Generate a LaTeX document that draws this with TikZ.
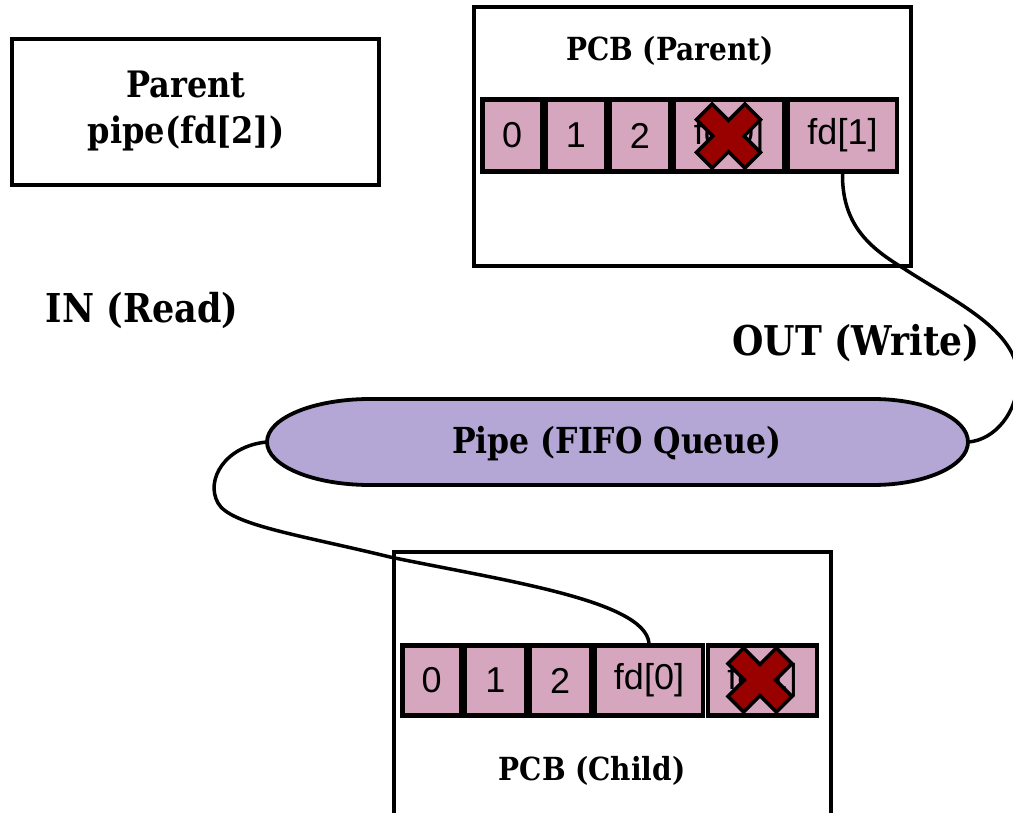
\documentclass[tikz,border=0pt]{standalone}
\usepackage{fontspec}
\setmainfont{DejaVu Serif}[FakeStretch=0.88]
\newfontfamily\cellfont{Liberation Sans}
\usetikzlibrary{shapes.geometric}
\definecolor{cellpink}{RGB}{213,166,189}
\definecolor{pipefill}{RGB}{180,167,214}
\definecolor{crossred}{RGB}{153,0,0}
\tikzset{
  cellbox/.style={draw=black, line width=4.5pt, fill=cellpink, inner sep=0pt,
    font=\cellfont\fontsize{36}{40}\selectfont},
  framebox/.style={draw=black, line width=4pt, inner sep=0pt},
  lbl/.style={inner sep=0pt, font=\bfseries\fontsize{#1}{#1}\selectfont, align=center},
  wire/.style={draw=black, line width=3.5pt},
  xcross/.pic={
    \filldraw[fill=crossred, draw=black, line width=3.5pt, line join=miter]
      (15.56,0) -- (32,16.44) -- (16.44,32) -- (0,15.56) -- (-16.44,32) -- (-32,16.44)
      -- (-15.56,0) -- (-32,-16.44) -- (-16.44,-32) -- (0,-15.56) -- (16.44,-32)
      -- (32,-16.44) -- cycle;
  }
}
\begin{document}
\begin{tikzpicture}[x=1pt,y=-1pt]
\useasboundingbox (0,0) rectangle (1013,813);
\clip (0,0) rectangle (1013,813);
\fill[white] (0,0) rectangle (1013,813);

% Parent box
\node[framebox, minimum width=367pt, minimum height=146pt] (parentbox) at (195,112.5) {};
\node[inner sep=0pt, align=center, font=\bfseries\fontsize{36.4}{46}\selectfont] (parenttxt) at (186,111) {Parent\\pipe(fd[2])};

% PCB parent
\node[framebox, minimum width=437pt, minimum height=259pt] (pcbp) at (692,137) {};
\node[lbl=31.8] (pcbptitle) at (670,51) {PCB (Parent)};
\node[cellbox, minimum width=59.5pt, minimum height=72pt] (p0) at (512.25,135.5) {0};
\node[cellbox, minimum width=60pt, minimum height=72pt] (p1) at (576,135.5) {1};
\node[cellbox, minimum width=60pt, minimum height=72pt] (p2) at (640,135.5) {2};
\node[cellbox, minimum width=110pt, minimum height=72pt] (pfd0) at (729,135.5) {fd[0]};
\node[cellbox, minimum width=109pt, minimum height=72pt] (pfd1) at (842.5,135.5) {fd[1]};
\pic at (728.5,136) {xcross};

% PCB child
\node[framebox, minimum width=437pt, minimum height=280pt] (pcbc) at (612,691.5) {};
\node[lbl=31.8] (pcbctitle) at (592,771) {PCB (Child)};
\node[cellbox, minimum width=58.5pt, minimum height=70pt] (c0) at (431.75,680.5) {0};
\node[cellbox, minimum width=61pt, minimum height=70pt] (c1) at (495.5,680.5) {1};
\node[cellbox, minimum width=61.5pt, minimum height=70pt] (c2) at (560.25,680.5) {2};
\node[cellbox, minimum width=108pt, minimum height=70pt] (cfd0) at (649,680.5) {fd[0]};
\node[cellbox, minimum width=109pt, minimum height=70pt] (cfd1) at (762.5,680.5) {fd[1]};
\pic at (760,680) {xcross};

% labels
\node[lbl=39.8] (inlbl) at (142,310) {IN (Read)};
\node[lbl=41] (outlbl) at (856,343) {OUT (Write)};

% pipe
\filldraw[fill=pipefill, draw=black, line width=3.8pt]
  (370,399) -- (873,399) arc[start angle=-90, end angle=90, x radius=95, y radius=43]
  -- (370,485) arc[start angle=90, end angle=270, x radius=103, y radius=43] -- cycle;
\node[inner sep=0pt, minimum width=701pt, minimum height=86pt] (pipe) at (617.5,442) {};
\node[lbl=35.8] (pipetxt) at (617,444) {Pipe (FIFO Queue)};

% connectors
\draw[wire] (pfd1.south) .. controls (842,225) and (870,248) .. (903,268)
  .. controls (955,302) and (1018,330) .. (1018,378)
  .. controls (1018,412) and (995,440) .. (pipe.east);
\draw[wire] (pipe.west) .. controls (225,446) and (205,480) .. (218,503)
  .. controls (230,525) and (300,535) .. (390,557)
  .. controls (500,580) and (645,600) .. (cfd0.north);
\end{tikzpicture}
\end{document}
